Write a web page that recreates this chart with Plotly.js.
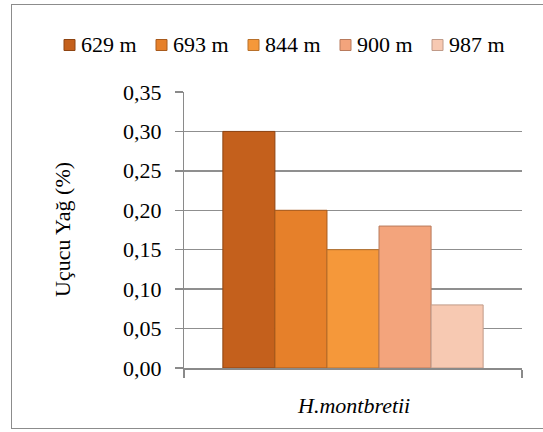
<!DOCTYPE html>
<html>
<head>
<meta charset="utf-8">
<script src="https://cdn.plot.ly/plotly-3.0.1.min.js"></script>
<style>
  html, body { margin: 0; padding: 0; background: #fff; }
  #wrap { position: relative; width: 543px; height: 432px; overflow: hidden; }
  #chart { width: 543px; height: 432px; }
  #frame { position: absolute; left: 11px; top: 4px; width: 560px; height: 425px;
           border: 1.5px solid #8c8c8c; pointer-events: none; box-sizing: border-box; }
</style>
</head>
<body>
<div id="wrap">
<div id="chart"></div>
<div id="frame"></div>
</div>
<script>
const category = ['H.montbretii'];
const seriesNames = ['629 m', '693 m', '844 m', '900 m', '987 m'];
const seriesValues = [0.30, 0.20, 0.15, 0.18, 0.08];
const seriesColors = ['#C4601C', '#E6802A', '#F5983A', '#F3A47C', '#F7C9B2'];
const seriesEdges = ['#8E4412', '#A85A1C', '#B8702A', '#B87A5C', '#C09A88'];
const yTicks = [0, 0.05, 0.10, 0.15, 0.20, 0.25, 0.30, 0.35];
const yTitle = 'Uçucu Yağ (%)';

const FAM = 'Liberation Serif';
const FS = 22;

// plot area geometry (pixels)
const W = 543, H = 432;
const M = { l: 184, r: 21, t: 92, b: 64 };
const PW = W - M.l - M.r, PH = H - M.t - M.b;
const px2x = p => (p - M.l) / PW;
const py2y = p => (H - M.b - p) / PH;

const traces = seriesNames.map((name, i) => ({
  type: 'bar',
  name: name,
  x: category,
  y: [seriesValues[i]],
  marker: { color: seriesColors[i], line: { color: seriesEdges[i], width: 1 } },
  hoverinfo: 'name+y',
  showlegend: false
}));

const txtFont = { family: FAM, size: FS, color: '#000' };
const annotations = [];
const shapes = [];

// y tick labels
yTicks.forEach(v => {
  annotations.push({
    xref: 'paper', yref: 'y', x: px2x(164), y: v,
    xanchor: 'right', yanchor: 'middle', showarrow: false,
    text: v.toFixed(2).replace('.', ','), font: txtFont
  });
});

// x category label
category.forEach(c => {
  annotations.push({
    xref: 'x', yref: 'paper', x: c, y: py2y(405),
    xanchor: 'center', yanchor: 'middle', showarrow: false,
    text: '<i>' + c + '</i>', font: txtFont
  });
});

// y axis title
annotations.push({
  xref: 'paper', yref: 'paper', x: px2x(62), y: 0.5,
  xanchor: 'center', yanchor: 'middle', showarrow: false, textangle: -90,
  text: yTitle, font: txtFont
});

// legend (swatch + label per series)
const itemW = 92, sw = 11, legStart = 64, legY = 45;
seriesNames.forEach((name, i) => {
  const left = legStart + i * itemW;
  shapes.push({
    type: 'rect', xref: 'paper', yref: 'paper',
    x0: px2x(left), x1: px2x(left + sw),
    y0: py2y(legY + sw / 2), y1: py2y(legY - sw / 2),
    fillcolor: seriesColors[i], line: { color: seriesEdges[i], width: 1 }
  });
  annotations.push({
    xref: 'paper', yref: 'paper', x: px2x(left + sw + 4), y: py2y(legY),
    xanchor: 'left', yanchor: 'middle', showarrow: false,
    text: name, font: txtFont
  });
});

const layout = {
  width: W,
  height: H,
  margin: { l: M.l, r: M.r, t: M.t, b: M.b, autoexpand: false },
  paper_bgcolor: 'rgba(0,0,0,0)',
  plot_bgcolor: 'rgba(0,0,0,0)',
  separators: ', ',
  barmode: 'group',
  bargap: 0.23,
  bargroupgap: 0,
  font: { family: FAM, size: FS, color: '#000' },
  showlegend: false,
  annotations: annotations,
  shapes: shapes,
  xaxis: {
    type: 'category',
    showgrid: false,
    showline: true,
    linecolor: '#8a8a8a',
    linewidth: 1.5,
    ticks: 'outside',
    tickson: 'boundaries',
    ticklen: 8,
    tickcolor: '#8a8a8a',
    tickwidth: 1.5,
    showticklabels: false,
    fixedrange: true
  },
  yaxis: {
    range: [0, 0.35],
    tickvals: yTicks,
    showgrid: true,
    gridcolor: '#8f8f8f',
    gridwidth: 1.5,
    zeroline: false,
    showline: true,
    linecolor: '#8a8a8a',
    linewidth: 1.5,
    ticks: 'outside',
    ticklen: 8,
    tickcolor: '#8a8a8a',
    tickwidth: 1.5,
    showticklabels: false,
    fixedrange: true
  }
};

Plotly.newPlot('chart', traces, layout, { displayModeBar: false, staticPlot: true });
</script>
</body>
</html>
